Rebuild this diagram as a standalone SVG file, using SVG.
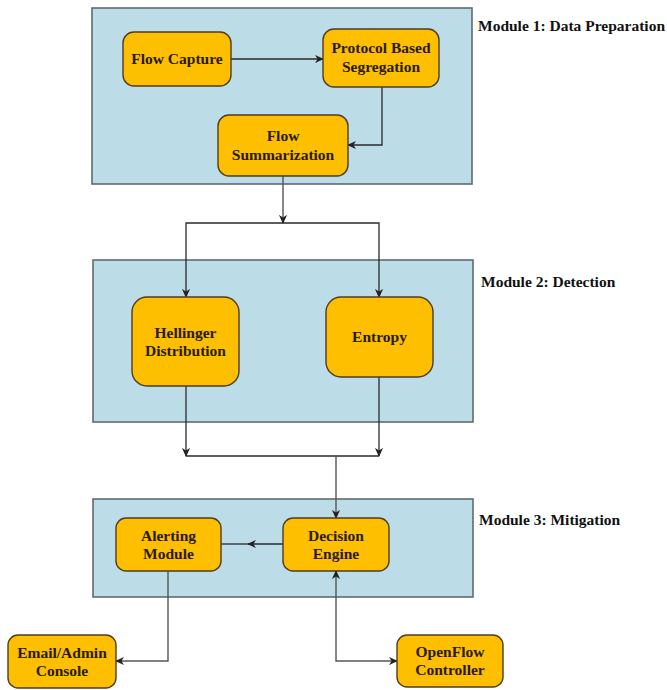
<svg xmlns="http://www.w3.org/2000/svg" width="667" height="690" viewBox="0 0 667 690">
<style>
.mod{fill:#bcdce7;stroke:#5f6b70;stroke-width:1.6}
.node{fill:#fdbf00;stroke:#4d3d22;stroke-width:1.4}
text{font-family:"Liberation Serif","Times New Roman",serif;font-weight:bold}
.nt{font-size:15.5px;fill:#2a1a0c;text-anchor:middle}
.ml{font-size:15.5px;fill:#111}
.c{fill:none;stroke:#2a2a2a;stroke-width:1.3}
.cg{fill:none;stroke:#555;stroke-width:1.4}
</style>
<defs>
<marker id="ah" viewBox="0 0 10 10" refX="9" refY="5" markerWidth="9" markerHeight="9" markerUnits="userSpaceOnUse" orient="auto-start-reverse">
<path d="M0,0.5 L10,5 L0,9.5 L3,5 Z" fill="#222"/>
</marker>
</defs>
<g id="module1">
<rect class="mod" x="92" y="8" width="380" height="176"/>
<text class="ml" x="478" y="31" textLength="187" lengthAdjust="spacingAndGlyphs">Module 1: Data Preparation</text>
</g>
<g id="module2">
<rect class="mod" x="93" y="260" width="380" height="162"/>
<text class="ml" x="481" y="287">Module 2: Detection</text>
</g>
<g id="module3">
<rect class="mod" x="93" y="499" width="380" height="98"/>
<text class="ml" x="479" y="525">Module 3: Mitigation</text>
</g>
<g id="connectors">
<line class="c" x1="231" y1="59" x2="323" y2="59" marker-end="url(#ah)"/>
<polyline class="c" points="382,87 382,145 348,145" marker-end="url(#ah)"/>
<line class="cg" x1="283" y1="176" x2="283" y2="223" marker-end="url(#ah)"/>
<polyline class="c" points="186,297 186,223 379,223 379,297" marker-start="url(#ah)" marker-end="url(#ah)"/>
<line class="c" x1="186" y1="386" x2="186" y2="456" marker-end="url(#ah)"/>
<line class="c" x1="379" y1="377" x2="379" y2="456" marker-end="url(#ah)"/>
<line class="c" x1="186" y1="456" x2="379" y2="456"/>
<line class="cg" x1="336" y1="456" x2="336" y2="518" marker-end="url(#ah)"/>
<line class="c" x1="283" y1="544" x2="248" y2="544" marker-end="url(#ah)"/>
<line class="c" x1="250" y1="544" x2="221" y2="544"/>
<polyline class="cg" points="168,571 168,661 116,661" marker-end="url(#ah)"/>
<polyline class="cg" points="336,571 336,661 397,661" marker-start="url(#ah)" marker-end="url(#ah)"/>
</g>
<g id="flow-capture">
<rect class="node" x="123" y="32" width="108" height="54" rx="11"/>
<text class="nt" x="177" y="64">Flow Capture</text>
</g>
<g id="protocol-segregation">
<rect class="node" x="323" y="29" width="116" height="58" rx="11"/>
<text class="nt" x="381" y="53">Protocol Based</text>
<text class="nt" x="381" y="72">Segregation</text>
</g>
<g id="flow-summarization">
<rect class="node" x="218" y="115" width="130" height="61" rx="11"/>
<text class="nt" x="283" y="141">Flow</text>
<text class="nt" x="283" y="160">Summarization</text>
</g>
<g id="hellinger">
<rect class="node" x="132" y="297" width="107" height="89" rx="15"/>
<text class="nt" x="185.5" y="338">Hellinger</text>
<text class="nt" x="185.5" y="356">Distribution</text>
</g>
<g id="entropy">
<rect class="node" x="326" y="297" width="107" height="80" rx="15"/>
<text class="nt" x="379.5" y="342">Entropy</text>
</g>
<g id="alerting-module">
<rect class="node" x="116" y="518" width="105" height="53" rx="10"/>
<text class="nt" x="168.5" y="541">Alerting</text>
<text class="nt" x="168.5" y="559">Module</text>
</g>
<g id="decision-engine">
<rect class="node" x="283" y="518" width="106" height="53" rx="10"/>
<text class="nt" x="336" y="541">Decision</text>
<text class="nt" x="336" y="559">Engine</text>
</g>
<g id="email-admin">
<rect class="node" x="8" y="635" width="108" height="53" rx="10"/>
<text class="nt" x="62" y="658">Email/Admin</text>
<text class="nt" x="62" y="676">Console</text>
</g>
<g id="openflow">
<rect class="node" x="397" y="635" width="106" height="52" rx="10"/>
<text class="nt" x="450" y="657">OpenFlow</text>
<text class="nt" x="450" y="675">Controller</text>
</g>
</svg>
